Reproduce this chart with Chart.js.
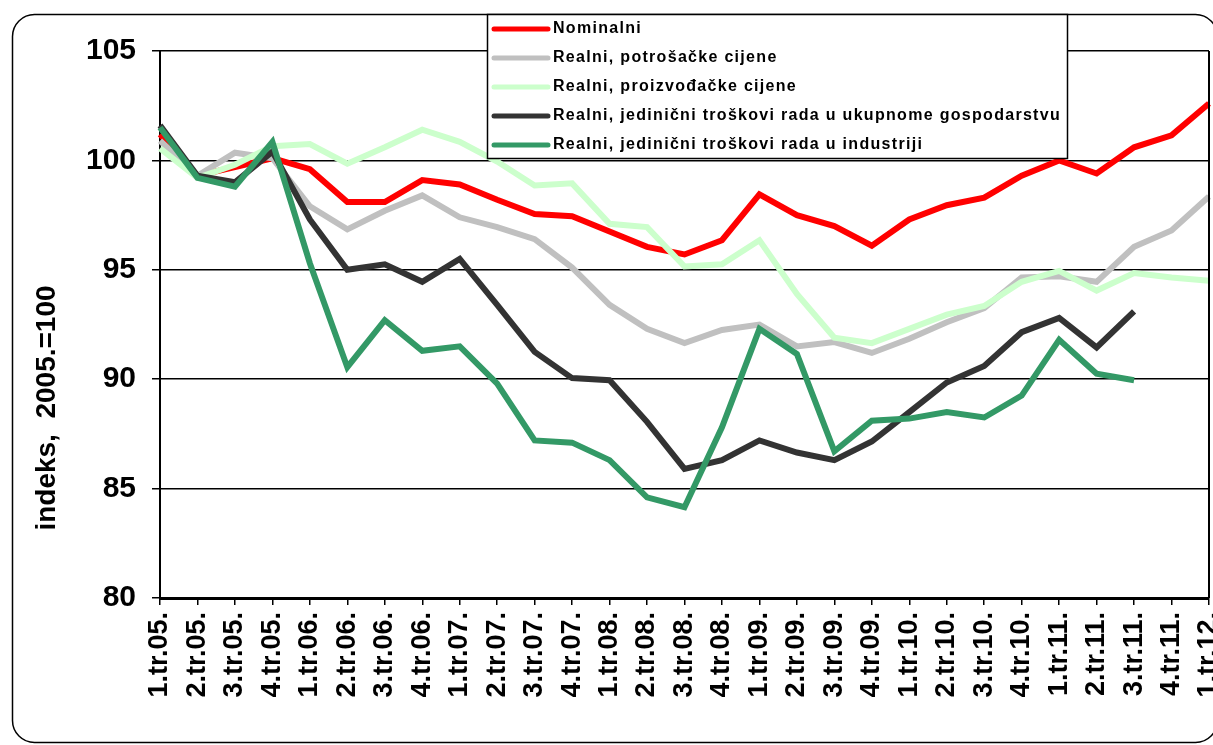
<!DOCTYPE html>
<html lang="hr">
<head>
    <meta charset="UTF-8">
    <title>Indeksi realnog efektivnog tečaja</title>
    <script src="https://cdn.jsdelivr.net/npm/chart.js"></script>
    <style>
        html, body { margin: 0; padding: 0; background: #fff; }
        #chart { display: block; }
    </style>
</head>
<body>
    <canvas id="chart" width="1213" height="745"></canvas>

    <script>
        // quarters on the x axis
        const quarters = [
            '1.tr.05.', '2.tr.05.', '3.tr.05.', '4.tr.05.',
            '1.tr.06.', '2.tr.06.', '3.tr.06.', '4.tr.06.',
            '1.tr.07.', '2.tr.07.', '3.tr.07.', '4.tr.07.',
            '1.tr.08.', '2.tr.08.', '3.tr.08.', '4.tr.08.',
            '1.tr.09.', '2.tr.09.', '3.tr.09.', '4.tr.09.',
            '1.tr.10.', '2.tr.10.', '3.tr.10.', '4.tr.10.',
            '1.tr.11.', '2.tr.11.', '3.tr.11.', '4.tr.11.',
            '1.tr.12.'
        ];

        // index values, 2005 = 100
        const nominalni = [101.2, 99.3, 99.7, 100.1, 99.6, 98.1, 98.1, 99.1, 98.9, 98.2, 97.55, 97.45,
            96.75, 96.05, 95.7, 96.35, 98.45, 97.5, 97.0, 96.1, 97.3, 97.95, 98.3, 99.3,
            100.0, 99.4, 100.6, 101.15, 102.6];
        const potrosackeCijene = [100.9, 99.3, 100.35, 100.1, 97.9, 96.85, 97.7, 98.4, 97.4, 96.95, 96.4, 95.1,
            93.4, 92.3, 91.65, 92.25, 92.5, 91.5, 91.7, 91.2, 91.85, 92.6, 93.25, 94.65,
            94.7, 94.45, 96.05, 96.8, 98.35];
        const proizvodjackeCijene = [100.55, 99.2, 99.8, 100.65, 100.75, 99.85, 100.6, 101.4, 100.85, 99.95, 98.85, 98.95,
            97.1, 96.95, 95.15, 95.25, 96.35, 93.9, 91.9, 91.65, 92.3, 92.95, 93.35, 94.45,
            94.95, 94.05, 94.85, 94.65, 94.5];
        const ulcGospodarstvo = [101.6, 99.3, 99.0, 100.4, 97.3, 95.0, 95.25, 94.45, 95.5, 93.4, 91.25, 90.05,
            89.95, 88.05, 85.9, 86.3, 87.2, 86.65, 86.3, 87.15, 88.5, 89.85, 90.6, 92.15,
            92.8, 91.45, 93.1, null, null];
        const ulcIndustrija = [101.5, 99.2, 98.8, 100.85, 95.3, 90.55, 92.7, 91.3, 91.5, 89.8, 87.2, 87.1,
            86.3, 84.6, 84.15, 87.8, 92.3, 91.15, 86.7, 88.1, 88.2, 88.5, 88.25, 89.25,
            91.8, 90.25, 89.95, null, null];

        const seriesNames = [
            'Nominalni',
            'Realni, potrošačke cijene',
            'Realni, proizvođačke cijene',
            'Realni, jedinični troškovi rada u ukupnome gospodarstvu',
            'Realni, jedinični troškovi rada u industriji'
        ];
        const seriesColors = ['#ff0000', '#c0c0c0', '#ccffcc', '#333333', '#339966'];

        const font = '"Liberation Sans", Arial, sans-serif';

        // rounded frame, plot borders, axis title and the boxed legend
        const decorations = {
            id: 'decorations',
            beforeDraw(chart) {
                const c = chart.ctx;
                c.save();
                c.fillStyle = '#fff';
                c.fillRect(0, 0, chart.width, chart.height);
                c.strokeStyle = '#000';
                c.lineWidth = 1.5;
                c.beginPath();
                c.roundRect(12.5, 14.5, 1205, 728, 22);
                c.stroke();
                c.restore();
            },
            afterDraw(chart) {
                const c = chart.ctx;
                const a = chart.chartArea;
                c.save();
                c.strokeStyle = '#000';
                c.lineWidth = 2;
                c.beginPath();
                c.moveTo(a.right, a.top);
                c.lineTo(a.right, a.bottom);
                c.stroke();

                // y axis title
                c.fillStyle = '#000';
                c.font = 'bold 28px ' + font;
                c.textAlign = 'center';
                c.textBaseline = 'middle';
                c.translate(47, 408);
                c.rotate(-Math.PI / 2);
                c.fillText('indeks,  2005.=100', 0, 0);
                c.restore();

                // legend box
                c.save();
                c.fillStyle = '#fff';
                c.fillRect(487, 14, 580, 144);
                c.strokeStyle = '#000';
                c.lineWidth = 1.5;
                c.strokeRect(487.5, 14.5, 580, 144);
                c.font = 'bold 16px ' + font;
                c.letterSpacing = '1.3px';
                c.textBaseline = 'middle';
                c.textAlign = 'left';
                seriesNames.forEach((name, i) => {
                    const y = 29 + i * 29;
                    c.strokeStyle = seriesColors[i];
                    c.lineWidth = 5;
                    c.lineCap = 'round';
                    c.beginPath();
                    c.moveTo(494, y);
                    c.lineTo(548, y);
                    c.stroke();
                    c.fillStyle = '#000';
                    c.fillText(name, 553, y);
                });
                c.restore();
            }
        };

        const seriesData = [nominalni, potrosackeCijene, proizvodjackeCijene, ulcGospodarstvo, ulcIndustrija];

        new Chart(document.getElementById('chart'), {
            type: 'line',
            data: {
                labels: quarters,
                datasets: seriesData.map((values, i) => ({
                    label: seriesNames[i],
                    data: values,
                    borderColor: seriesColors[i],
                    backgroundColor: seriesColors[i],
                    borderWidth: 6,
                    pointRadius: 0,
                    tension: 0,
                    spanGaps: false,
                    order: 5 - i
                }))
            },
            options: {
                responsive: false,
                animation: false,
                layout: { padding: { left: 0, top: 51, right: 4, bottom: 0 } },
                plugins: {
                    legend: { display: false },
                    tooltip: { enabled: false }
                },
                scales: {
                    x: {
                        offset: false,
                        grid: { drawOnChartArea: false, drawTicks: true, tickLength: 7, color: '#000', lineWidth: 1.5 },
                        border: { color: '#000', width: 3 },
                        ticks: {
                            autoSkip: false,
                            minRotation: 90,
                            maxRotation: 90,
                            padding: 7,
                            color: '#000',
                            font: { family: font, size: 27, weight: 'bold' }
                        },
                        afterFit(scale) {
                            scale.height = 147;
                            scale.paddingLeft = 0;
                            scale.paddingRight = 0;
                        }
                    },
                    y: {
                        min: 80,
                        max: 105,
                        grid: { color: '#000', lineWidth: 1.5, tickLength: 8 },
                        border: { color: '#000', width: 2 },
                        ticks: {
                            stepSize: 5,
                            padding: 16,
                            color: '#000',
                            font: { family: font, size: 30, weight: 'bold' }
                        },
                        afterFit(scale) {
                            scale.width = 160;
                        }
                    }
                }
            },
            plugins: [decorations]
        });
    </script>
</body>
</html>
